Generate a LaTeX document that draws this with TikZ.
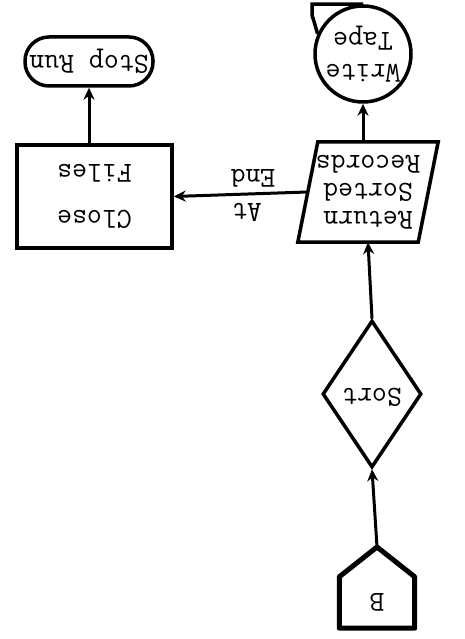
\documentclass[tikz,border=0pt]{standalone}
\usetikzlibrary{arrows.meta, positioning, shapes.geometric, calc}

\begin{document}
\begin{tikzpicture}[
  x=1pt, y=1pt,
  rotate around={180:(232.5,319.5)}, transform shape,
  every node/.style={font=\ttfamily\fontsize{29}{28}\selectfont},
  box/.style={draw, line width=3.5pt, minimum width=155pt, minimum height=103pt,
              align=center},
  term/.style={draw, line width=3.5pt, rounded corners=24pt, minimum width=128pt,
               minimum height=49pt, inner sep=0pt},
  decision/.style={draw, diamond, line width=3.5pt, minimum width=99pt,
                   minimum height=147pt, inner sep=0pt},
  tapebox/.style={draw, circle, line width=3.5pt, minimum size=96pt, inner sep=0pt,
                  align=center},
  iobox/.style={minimum width=120pt, minimum height=100pt, align=center, inner sep=0pt},
  flow/.style={-{Stealth[length=12pt, width=11pt]}, line width=3pt},
]
  \useasboundingbox (0,0) rectangle (465,639);

  % Nodes
  \node[term] (stop) at (376,61.5) {Stop Run};
  \node[box] (close) at (370.5,196.5) {Close\\[18pt]Files};
  \node[iobox] (ret) at (97,192) {Return\\Sorted\\Records};
  \node[tapebox] (tape) at (102,54) {Write\\[4pt]Tape};
  \node[decision] (sort) at (93,394) {\raisebox{8pt}{Sort}};
  \node[minimum width=75pt, minimum height=51pt, inner sep=0pt] (b) at (88,602.5) {B};
  \coordinate (btip) at (88,547);

  % Outlines
  \draw[line width=3.5pt] ([xshift=-10pt]ret.south west) -- ([xshift=-10pt]ret.south east)
    -- ([xshift=10pt]ret.north east) -- ([xshift=10pt]ret.north west) -- cycle;
  \draw[line width=5pt, line join=round] (b.north west) -- (b.north east)
    -- (b.south east) -- (btip) -- (b.south west) -- cycle;
  \draw[line width=3.5pt] (tape.south) -- ++(51,0) -- ++(0,11) .. controls +(-2,6) .. (tape.-24);

  % Edges
  \draw[flow] (btip) -- (sort.north);
  \draw[flow] (sort.south) -- (ret.north);
  \draw[flow] (ret.south -| tape.north) -- (tape.north);
  \draw[flow] (ret.east) -- (close.west);
  \draw[flow] (close.south -| stop.north) -- (stop.north);

  % Labels
  \node (atlbl) at (218,212) {At};
  \node (endlbl) at (212,178) {End};
\end{tikzpicture}
\end{document}
